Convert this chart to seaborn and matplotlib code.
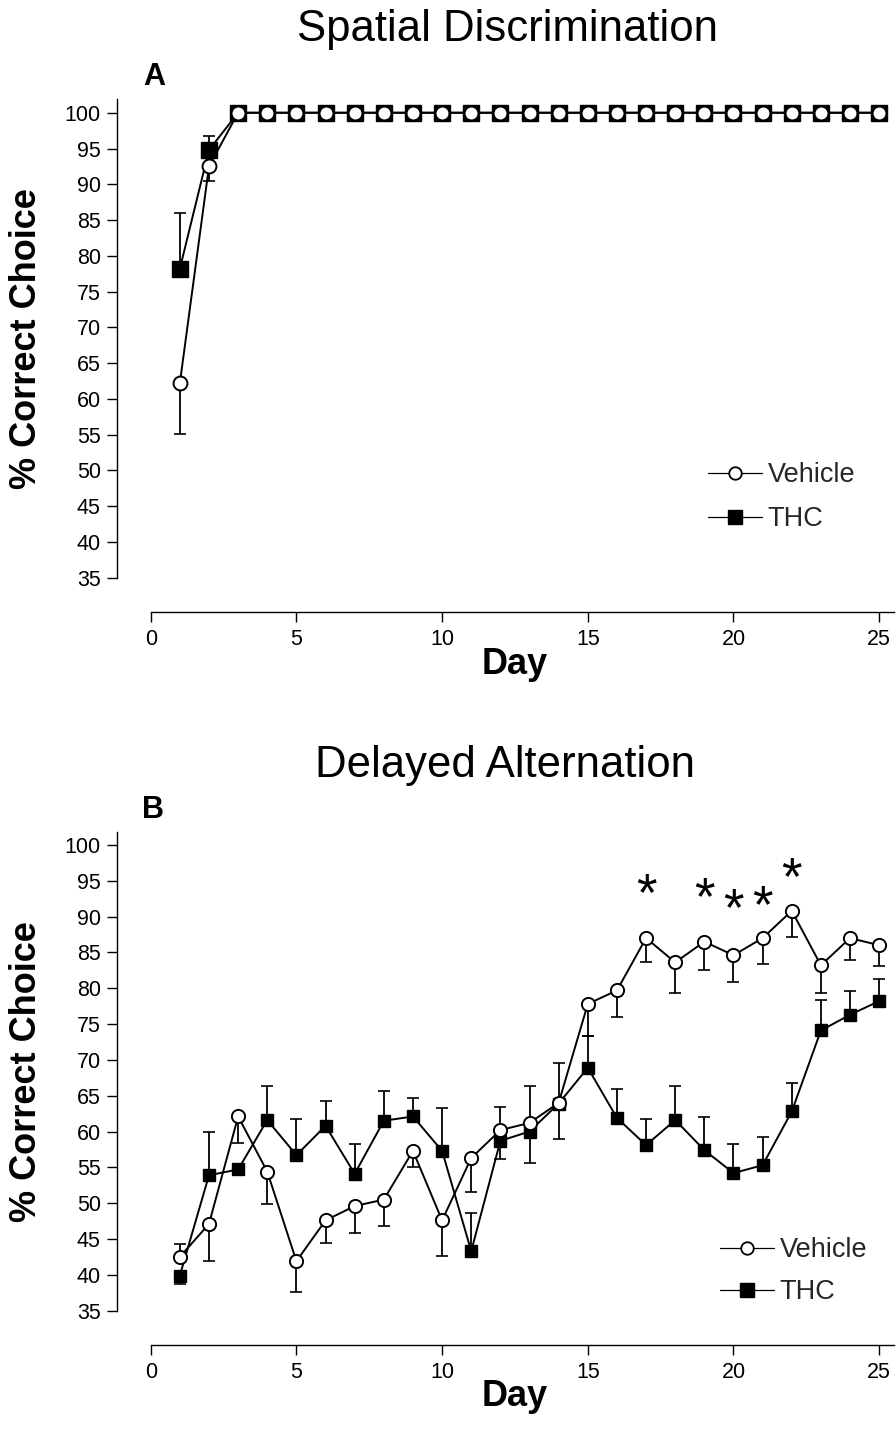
import numpy as np
import matplotlib
matplotlib.use("Agg")
import matplotlib.pyplot as plt
from matplotlib.lines import Line2D
import matplotlib.transforms as mtransforms
import seaborn as sns

# ---------------- data ----------------
days = list(range(1, 26))

# Panel A: Spatial Discrimination
a_vehicle = [62.2, 92.5, 100, 100, 100, 100, 100, 100, 100, 100, 100, 100, 100,
             100, 100, 100, 100, 100, 100, 100, 100, 100, 100, 100, 100]
a_vehicle_err_lo = [7.1, 2.0, 0, 0, 0, 0, 0, 0, 0, 0, 0, 0, 0,
                    0, 0, 0, 0, 0, 0, 0, 0, 0, 0, 0, 0]
a_vehicle_err_hi = [0, 0, 0, 0, 0, 0, 0, 0, 0, 0, 0, 0, 0,
                    0, 0, 0, 0, 0, 0, 0, 0, 0, 0, 0, 0]
a_thc = [78.2, 94.8, 100, 100, 100, 100, 100, 100, 100, 100, 100, 100, 100,
         100, 100, 100, 100, 100, 100, 100, 100, 100, 100, 100, 100]
a_thc_err_lo = [0, 0, 0, 0, 0, 0, 0, 0, 0, 0, 0, 0, 0,
                0, 0, 0, 0, 0, 0, 0, 0, 0, 0, 0, 0]
a_thc_err_hi = [7.8, 2.0, 0, 0, 0, 0, 0, 0, 0, 0, 0, 0, 0,
                0, 0, 0, 0, 0, 0, 0, 0, 0, 0, 0, 0]

# Panel B: Delayed Alternation
b_vehicle = [42.5, 47.1, 62.1, 54.4, 41.9, 47.6, 49.6, 50.5, 57.3, 47.6, 56.3, 60.2, 61.2,
             64.0, 77.8, 79.7, 87.0, 83.6, 86.5, 84.6, 87.0, 90.8, 83.2, 87.0, 86.0]
b_vehicle_err_lo = [0, 5.2, 3.7, 4.5, 4.3, 3.2, 3.8, 3.7, 2.3, 5.0, 4.7, 0, 0,
                    0, 4.5, 3.7, 3.3, 4.3, 4.0, 3.7, 3.6, 3.6, 3.9, 3.1, 2.9]
b_vehicle_err_hi = [1.8, 0, 0, 0, 0, 0, 0, 0, 0, 0, 0, 3.2, 5.2,
                    5.6, 0, 0, 0, 0, 0, 0, 0, 0, 0, 0, 0]
b_thc = [39.9, 53.9, 54.7, 61.6, 56.7, 60.8, 54.1, 61.5, 62.1, 57.3, 43.3, 58.7, 60.0,
         63.9, 68.9, 61.9, 58.1, 61.6, 57.4, 54.2, 55.3, 62.8, 74.1, 76.3, 78.2]
b_thc_err_lo = [1.2, 0, 0, 0, 0, 0, 0, 0, 0, 0, 0, 2.6, 4.4,
                4.9, 0, 0, 0, 0, 0, 0, 0, 0, 0, 0, 0]
b_thc_err_hi = [0, 6.0, 0, 4.8, 5.0, 3.4, 4.2, 4.1, 2.6, 6.0, 5.3, 0, 0,
                0, 4.5, 4.0, 3.6, 4.8, 4.6, 4.1, 3.9, 4.0, 4.3, 3.3, 3.1]

star_days = [17, 19, 20, 21, 22]
star_y = [94.2, 93.7, 92.1, 92.6, 96.5]

y_ticks = list(range(35, 101, 5))
x_ticks = [0, 5, 10, 15, 20, 25]

# ---------------- style ----------------
sns.set_theme(style="ticks")
plt.rcParams["font.family"] = ["Liberation Sans", "DejaVu Sans"]

fig = plt.figure(figsize=(8.96, 14.39), dpi=100)
ax_a = fig.add_axes([0.1682, 0.5985, 0.8293, 0.3324])
ax_b = fig.add_axes([0.1682, 0.0892, 0.8293, 0.3329])


def draw_panel(ax, veh, veh_lo, veh_hi, thc, thc_lo, thc_hi, msize_c, msize_s):
    ax.errorbar(days, thc, yerr=[thc_lo, thc_hi], fmt="none", ecolor="black",
                elinewidth=1.3, capsize=4, capthick=1.2, zorder=2)
    ax.errorbar(days, veh, yerr=[veh_lo, veh_hi], fmt="none", ecolor="black",
                elinewidth=1.3, capsize=4, capthick=1.2, zorder=2)
    sns.lineplot(x=days, y=thc, ax=ax, color="black", linewidth=1.4,
                 marker="s", markersize=msize_s, markerfacecolor="black",
                 markeredgecolor="black", markeredgewidth=1.0, zorder=3,
                 errorbar=None, legend=False)
    sns.lineplot(x=days, y=veh, ax=ax, color="black", linewidth=1.4,
                 marker="o", markersize=msize_c, markerfacecolor="white",
                 markeredgecolor="black", markeredgewidth=1.4, zorder=4,
                 errorbar=None, legend=False)
    ax.set_xlim(0, 25.5)
    ax.set_ylim(35, 101.86)
    ax.set_yticks(y_ticks)
    ax.set_xticks(x_ticks)
    ax.tick_params(axis="both", direction="out", length=7.5, width=1.0,
                   color="black", labelsize=15.5, labelcolor="black")
    ax.tick_params(axis="y", pad=4)
    ax.tick_params(axis="x", pad=5)
    for s in ["top", "right"]:
        ax.spines[s].set_visible(False)
    for s in ["left", "bottom"]:
        ax.spines[s].set_position(("outward", 24.5))
        ax.spines[s].set_linewidth(1.0)
        ax.spines[s].set_color("black")
    ax.set_ylabel("% Correct Choice", fontsize=26, fontweight="bold", color="black")
    ax.yaxis.set_label_coords(-0.1436, 0.5)
    ax.set_xlabel("Day", fontsize=26, fontweight="bold", color="black")
    ax.set_facecolor("white")
    ax.grid(False)


draw_panel(ax_a, a_vehicle, a_vehicle_err_lo, a_vehicle_err_hi,
           a_thc, a_thc_err_lo, a_thc_err_hi, 10, 12)
draw_panel(ax_b, b_vehicle, b_vehicle_err_lo, b_vehicle_err_hi,
           b_thc, b_thc_err_lo, b_thc_err_hi, 9.5, 9.2)
ax_a.xaxis.set_label_coords(0.49, -0.145)
ax_b.xaxis.set_label_coords(0.49, -0.143)

star_tr = mtransforms.offset_copy(ax_b.transData, fig=fig, y=-7, units="points")
for d, yv in zip(star_days, star_y):
    ax_b.text(d, yv, "*", ha="center", va="center", fontsize=38, color="black",
              transform=star_tr)

# legends
def legend_handles(ms_c, ms_s):
    return [Line2D([0], [0], color="black", linewidth=0.9, marker="o", markersize=ms_c,
                   markerfacecolor="white", markeredgecolor="black", markeredgewidth=1.3),
            Line2D([0], [0], color="black", linewidth=0.9, marker="s", markersize=ms_s,
                   markerfacecolor="black", markeredgecolor="black")]

ax_a.legend(legend_handles(9, 10), ["Vehicle", "THC"], loc="upper left",
            bbox_to_anchor=(708 / 896, 1 - 462 / 1439), bbox_transform=fig.transFigure,
            frameon=False, fontsize=19.5, handlelength=2.0, handletextpad=0.2,
            labelspacing=0.68, borderpad=0, borderaxespad=0)
ax_b.legend(legend_handles(9, 10), ["Vehicle", "THC"], loc="upper left",
            bbox_to_anchor=(720 / 896, 1 - 1237 / 1439), bbox_transform=fig.transFigure,
            frameon=False, fontsize=19.5, handlelength=2.0, handletextpad=0.2,
            labelspacing=0.6, borderpad=0, borderaxespad=0)

# titles and panel letters
fig.text(507 / 896, 1 - 30 / 1439, "Spatial Discrimination", ha="center", va="center",
         fontsize=31.5, color="black")
fig.text(505 / 896, 1 - 765 / 1439, "Delayed Alternation", ha="center", va="center",
         fontsize=31.5, color="black")
fig.text(154 / 896, 1 - 77 / 1439, "A", ha="center", va="center", fontsize=22,
         fontweight="bold", color="black")
fig.text(153 / 896, 1 - 810 / 1439, "B", ha="center", va="center", fontsize=22,
         fontweight="bold", color="black")

fig.savefig("out.png", dpi=100, facecolor="white")
